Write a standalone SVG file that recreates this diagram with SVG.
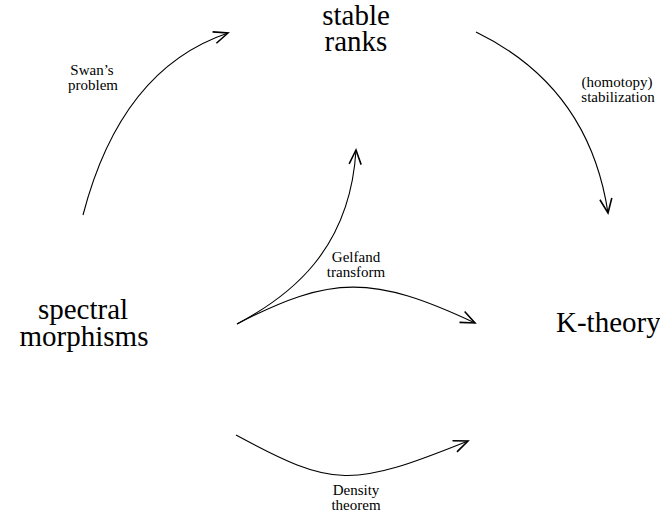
<svg xmlns="http://www.w3.org/2000/svg" width="660" height="517" viewBox="0 0 660 517">
<style>
text{font-family:'Liberation Serif','Times New Roman',serif;fill:#000;text-anchor:middle}
.big{font-size:29px}
.small{font-size:15px}
.edge{fill:none;stroke:#000;stroke-width:1.1}
</style>
<defs>
<marker id="arr" markerUnits="userSpaceOnUse" markerWidth="20" markerHeight="20" viewBox="-12 -6 14 12" refX="0" refY="0" orient="auto" overflow="visible">
<path d="M-10,-4.2 L0,0 L-10,4.2" fill="none" stroke="#000" stroke-width="1.1"/>
</marker>
</defs>
<rect width="660" height="517" fill="#fff"/>
<g id="node-stable-ranks">
<text class="big" x="356" y="25">stable</text>
<text class="big" x="356" y="51">ranks</text>
</g>
<g id="node-spectral-morphisms">
<text class="big" x="83" y="319">spectral</text>
<text class="big" x="84" y="346">morphisms</text>
</g>
<g id="node-k-theory">
<text class="big" x="556" y="332" style="text-anchor:start">K-theory</text>
</g>
<g id="connectors">
<path class="edge" d="M83,215 Q121,69 228,33" marker-end="url(#arr)"/>
<path class="edge" d="M476,32 Q589,87 608,213" marker-end="url(#arr)"/>
<path class="edge" d="M237,324 C290,296 350,250 356,150" marker-end="url(#arr)"/>
<path class="edge" d="M237,324 C331,275 373,275 475,323" marker-end="url(#arr)"/>
<path class="edge" d="M236,435 C334,488 351,488 468,441" marker-end="url(#arr)"/>
</g>
<g id="labels">
<text class="small" x="92" y="75">Swan’s</text>
<text class="small" x="93" y="90">problem</text>
<text class="small" x="617" y="87">(homotopy)</text>
<text class="small" x="618" y="102">stabilization</text>
<text class="small" x="356" y="262">Gelfand</text>
<text class="small" x="356" y="277">transform</text>
<text class="small" x="356" y="495">Density</text>
<text class="small" x="356" y="510">theorem</text>
</g>
</svg>
